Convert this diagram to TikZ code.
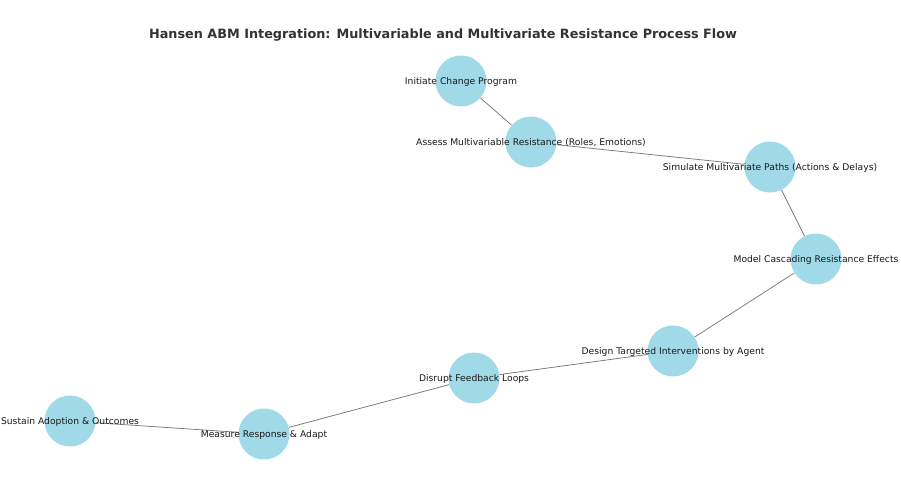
\documentclass[tikz,border=0pt]{standalone}
\usepackage{fontspec}
\setmainfont{DejaVu Sans}
\usetikzlibrary{backgrounds}
\definecolor{stepblue}{RGB}{160,217,232}
\definecolor{titlegray}{RGB}{51,51,51}
\definecolor{edgegray}{RGB}{120,120,120}

\begin{document}
\begin{tikzpicture}[
    x=1pt, y=-1pt,
    stage/.style={circle, fill=stepblue, minimum size=51pt, inner sep=0pt},
    stagelabel/.style={font=\fontsize{9.2}{11}\selectfont, text=black!90, yshift=-1pt},
    link/.style={draw=edgegray, line width=0.75pt}
]
\useasboundingbox (0,0) rectangle (901,496);

% Title
\node[font=\bfseries\fontsize{12.8}{15}\selectfont, text=titlegray] (title) at (443,35) {Hansen ABM Integration: Multivariable and Multivariate Resistance Process Flow};

% Process stages
\node[stage, label={[stagelabel]center:Initiate Change Program}] (initiate) at (461,81) {};
\node[stage, label={[stagelabel]center:Assess Multivariable Resistance (Roles, Emotions)}] (assess) at (531,142) {};
\node[stage, label={[stagelabel]center:Simulate Multivariate Paths (Actions \& Delays)}] (simulate) at (770,167) {};
\node[stage, label={[stagelabel]center:Model Cascading Resistance Effects}] (cascade) at (816,259) {};
\node[stage, label={[stagelabel]center:Design Targeted Interventions by Agent}] (design) at (673,351) {};
\node[stage, label={[stagelabel]center:Disrupt Feedback Loops}] (disrupt) at (474,378) {};
\node[stage, label={[stagelabel]center:Measure Response \& Adapt}] (measure) at (264,434) {};
\node[stage, label={[stagelabel]center:Sustain Adoption \& Outcomes}] (sustain) at (70,421) {};

% Connections
\begin{pgfonlayer}{background}
\draw[link] (initiate) -- (assess);
\draw[link] (assess) -- (simulate);
\draw[link] (simulate) -- (cascade);
\draw[link] (cascade) -- (design);
\draw[link] (design) -- (disrupt);
\draw[link] (disrupt) -- (measure);
\draw[link] (measure) -- (sustain);
\end{pgfonlayer}

\end{tikzpicture}
\end{document}
